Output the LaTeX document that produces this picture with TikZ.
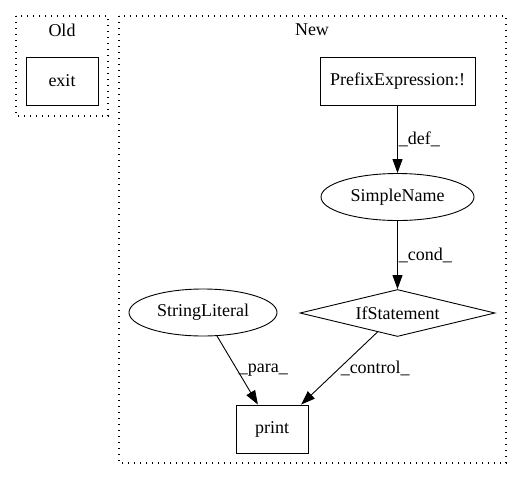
\documentclass[tikz,border=0pt]{standalone}
\usepackage{fontspec}
\setmainfont{Liberation Serif}
\usetikzlibrary{arrows.meta, shapes.geometric}

\begin{document}
\begin{tikzpicture}[x=1pt, y=-1pt, line width=0.9pt,
        every node/.style={font=\fontsize{18}{20}\selectfont, inner sep=0pt},
        cluster/.style={line width=1.2pt, dash pattern=on 1.2pt off 4.8pt},
        boxnode/.style={draw, rectangle, minimum width=#1, minimum height=48pt},
        ellnode/.style={draw, ellipse, minimum width=#1, minimum height=47pt},
        condnode/.style={draw, diamond, aspect=4.15, minimum width=195pt, minimum height=47pt},
        flow/.style={-{Triangle[length=14pt, width=10pt]}},
        lbl/.style={right, inner sep=1pt}]
        \useasboundingbox (0,0) rectangle (527,480);

        % Old
        \draw[cluster] (16,16) rectangle (108,116);
        \node (oldlbl) at (62,30) {Old};
        \node[boxnode=72pt] (exit) at (62,81) {exit};

        % New
        \draw[cluster] (119,16) rectangle (506,463);
        \node (newlbl) at (312,30) {New};
        \node[boxnode=155pt] (prefix) at (397.5,81) {PrefixExpression:!};
        \node[ellnode=153pt] (simplename) at (397.5,197) {SimpleName};
        \node[condnode] (ifstmt) at (397.5,313) {IfStatement};
        \node[ellnode=148pt] (strlit) at (203,312.5) {StringLiteral};
        \node[boxnode=72pt] (print) at (272,429) {print};

        % edges
        \draw[flow] (prefix) -- node[lbl] {\_def\_} (simplename);
        \draw[flow] (simplename) -- node[lbl] {\_cond\_} (ifstmt);
        \draw[flow] (strlit) -- node[lbl] {\_para\_} (print.120);
        \draw[flow] (ifstmt) -- node[lbl] {\_control\_} (print.40);
    \end{tikzpicture}
\end{document}
